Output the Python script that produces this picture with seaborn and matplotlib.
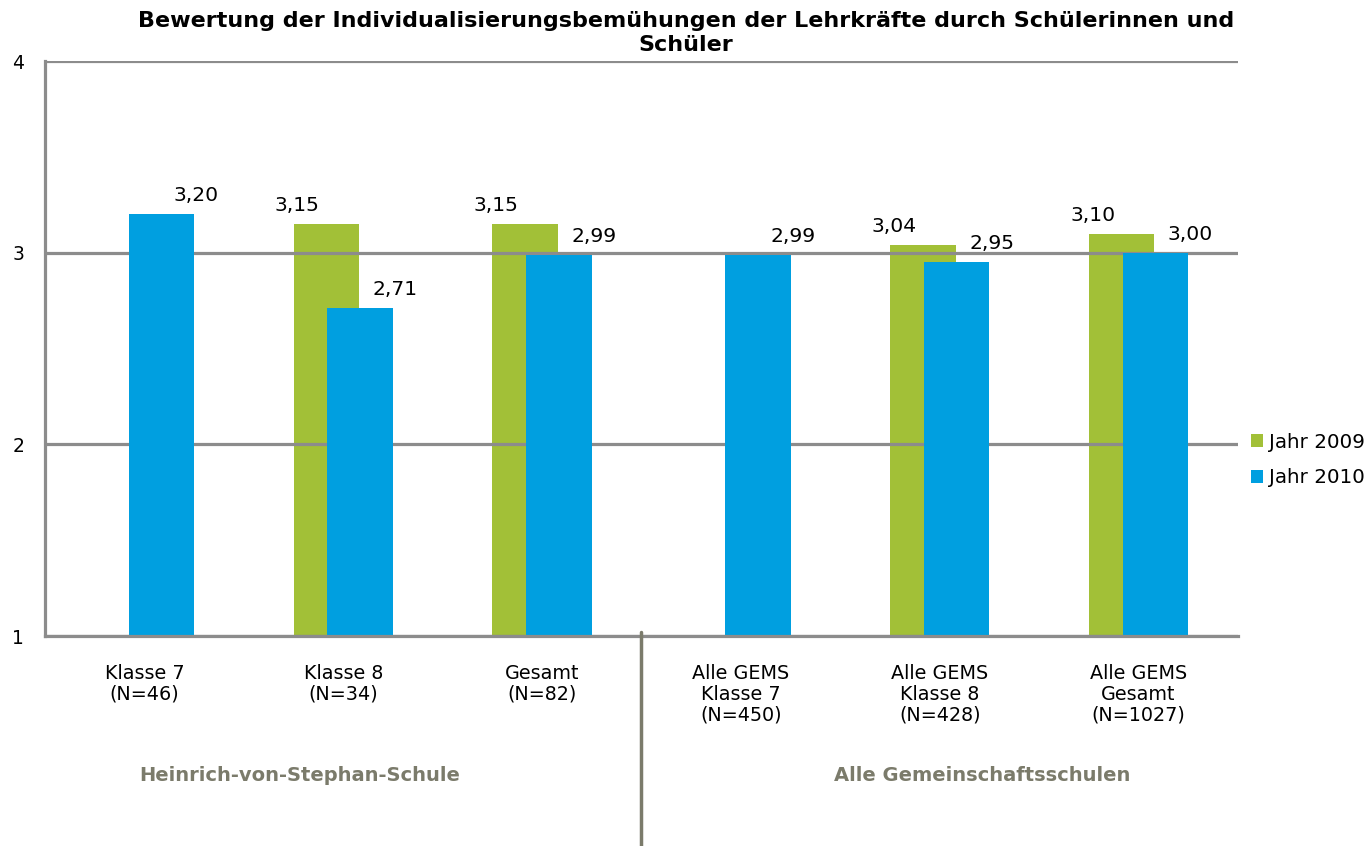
import numpy as np
import pandas as pd
import matplotlib
matplotlib.use("Agg")
import matplotlib.pyplot as plt
from matplotlib.patches import Patch
from matplotlib.ticker import FixedLocator
import seaborn as sns

# ---- data ----
categories = ["Klasse 7\n(N=46)", "Klasse 8\n(N=34)", "Gesamt\n(N=82)",
              "Alle GEMS\nKlasse 7\n(N=450)", "Alle GEMS\nKlasse 8\n(N=428)",
              "Alle GEMS\nGesamt\n(N=1027)"]
jahr_2009 = [np.nan, 3.15, 3.15, np.nan, 3.04, 3.10]
jahr_2010 = [3.20, 2.71, 2.99, 2.99, 2.95, 3.00]
series_names = ["Jahr 2009", "Jahr 2010"]
groups = ["Heinrich-von-Stephan-Schule", "Alle Gemeinschaftsschulen"]
title = "Bewertung der Individualisierungsbemühungen der Lehrkräfte durch Schülerinnen und\nSchüler"
yticks = [1, 2, 3, 4]

GREEN = "#a2c037"
BLUE = "#009fe0"
GRID = "#8c8c8c"
GROUPCOL = "#7b7b6b"

sns.set_theme(style="white")
plt.rcParams["font.family"] = ["DejaVu Sans"]
plt.rcParams["text.color"] = "black"
plt.rcParams["xtick.labelcolor"] = "black"
plt.rcParams["ytick.labelcolor"] = "black"

W, H = 1369, 846
fig = plt.figure(figsize=(W / 100, H / 100), dpi=100)
ax = fig.add_axes([45 / W, 1 - 636 / H, (1238 - 45) / W, (636 - 61) / H])

pos = np.arange(len(categories))
off = 0.085
bw = 0.33
df = pd.DataFrame({"pos": pos, "y09": jahr_2009, "y10": jahr_2010})
d09 = df.dropna(subset=["y09"])
sns.barplot(x=d09["pos"] - off, y=d09["y09"], native_scale=True, width=bw,
            color=GREEN, saturation=1, errorbar=None, ax=ax, zorder=1,
            linewidth=0)
sns.barplot(x=df["pos"] + off, y=df["y10"], native_scale=True, width=bw,
            color=BLUE, saturation=1, errorbar=None, ax=ax, zorder=2,
            linewidth=0)

ax.set_xlim(-0.5, len(categories) - 0.5)
ax.set_ylim(1, 4)
ax.set_yticks(yticks)
ax.set_yticklabels([str(t) for t in yticks], fontsize=13.5, color="black")
ax.set_xticks(pos)
ax.set_xticklabels(categories, fontsize=13.8, linespacing=1.12, color="black")
bounds = [b for b in np.arange(-0.5, len(categories), 1.0) if abs(b - 2.5) > 1e-6]
ax.xaxis.set_minor_locator(FixedLocator(bounds))
ax.tick_params(axis="x", which="major", length=0, pad=20)
ax.tick_params(axis="x", which="minor", length=5, width=2, color=GRID, direction="out")
ax.tick_params(axis="y", which="major", length=5, width=2, color=GRID, direction="out",
               pad=10)
ax.set_xlabel("")
ax.set_ylabel("")

ax.yaxis.grid(True, color=GRID, linewidth=2.3)
ax.xaxis.grid(False)
ax.set_axisbelow("line")
for s in ["top", "right"]:
    ax.spines[s].set_visible(False)
for s in ["left", "bottom"]:
    ax.spines[s].set_color(GRID)
    ax.spines[s].set_linewidth(2.3)

# value labels
for x, v in zip(pos, jahr_2009):
    if not np.isnan(v):
        ax.annotate(f"{v:.2f}".replace(".", ","), (x - off, v), xytext=(-29, 9),
                    textcoords="offset pixels", ha="center", va="bottom",
                    fontsize=14.6, color="black")
for x, v in zip(pos, jahr_2010):
    if not np.isnan(v):
        ax.annotate(f"{v:.2f}".replace(".", ","), (x + off, v), xytext=(35, 9),
                    textcoords="offset pixels", ha="center", va="bottom",
                    fontsize=14.6, color="black")

# separator line
ax.plot([2.5, 2.5], [4 / 575, -212 / 575], transform=ax.get_xaxis_transform(),
        color=GROUPCOL, linewidth=2.5, clip_on=False, zorder=3)

# group labels
fig.text(300 / W, 1 - 775 / H, groups[0], ha="center", va="center", fontsize=14,
         fontweight="bold", color=GROUPCOL)
fig.text(982 / W, 1 - 775 / H, groups[1], ha="center", va="center", fontsize=14,
         fontweight="bold", color=GROUPCOL)

# title
fig.text(686 / W, 1 - 11 / H, title, ha="center", va="top", fontsize=16,
         fontweight="bold", linespacing=1.25, color="black")

# legend
handles = [Patch(facecolor=GREEN, edgecolor="none"), Patch(facecolor=BLUE, edgecolor="none")]
leg = fig.legend(handles, series_names, loc="center left",
                 bbox_to_anchor=(1251 / W, 1 - 460 / H), frameon=False, fontsize=14.3,
                 handlelength=0.6, handleheight=0.6, handletextpad=0.3, labelspacing=0.85,
                 borderaxespad=0, borderpad=0)
for t in leg.get_texts():
    t.set_color("black")

fig.savefig("out.png", dpi=100)
